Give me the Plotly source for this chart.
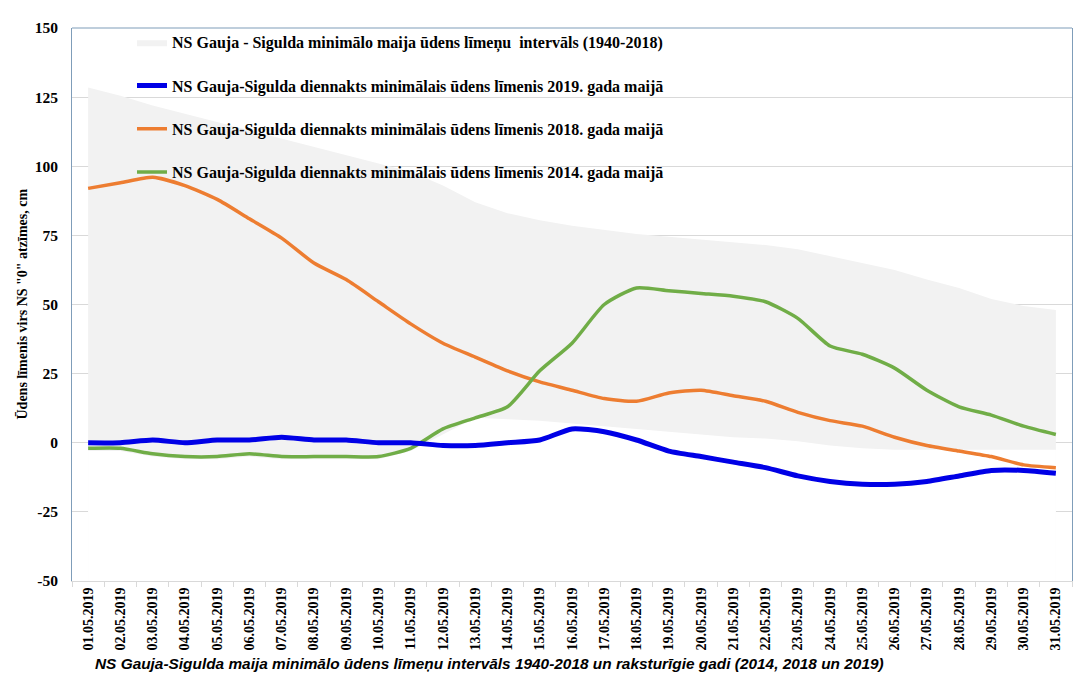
import plotly.graph_objects as go

dates = [f"{d:02d}.05.2019" for d in range(1, 32)]

band_upper = [128.5, 125.5, 122, 119, 116, 113, 110, 107, 104, 101, 98, 93, 87, 83,
              80.5, 78.5, 77, 75.5, 74.5, 73.5, 72.5, 71.5, 70, 67.5, 65, 62.5, 59,
              56, 52, 49.5, 48]
band_lower = [-3, -3, -5, -6, -6, -5, -6, -6, -6, -6, -3, 3, 9, 8.5, 8, 7, 6, 5, 4,
              3, 2, 1.5, 0.5, -1, -2, -2.5, -2.5, -2.5, -2.5, -2.5, -2.5]
y2019 = [0, 0, 1, 0, 1, 1, 2, 1, 1, 0, 0, -1, -1, 0, 1, 5, 4, 1, -3, -5, -7, -9,
         -12, -14, -15, -15, -14, -12, -10, -10, -11]
y2018 = [92, 94, 96, 93, 88, 81, 74, 65, 59, 51, 43, 36, 31, 26, 22, 19, 16, 15, 18,
         19, 17, 15, 11, 8, 6, 2, -1, -3, -5, -8, -9]
y2014 = [-2, -2, -4, -5, -5, -4, -5, -5, -5, -5, -2, 5, 9, 13, 26, 36, 50, 56, 55,
         54, 53, 51, 45, 35, 32, 27, 19, 13, 10, 6, 3]

y_ticks = [-50, -25, 0, 25, 50, 75, 100, 125, 150]
y_tick_labels = ["-50", "-25", "0", "25", "50", "75", "100", "125", "150"]

y_min, y_max = -50, 150
base = [y_min] * len(dates)

names = [
    "NS Gauja - Sigulda minimālo maija ūdens līmeņu  intervāls (1940-2018)",
    "NS Gauja-Sigulda diennakts minimālais ūdens līmenis 2019. gada maijā",
    "NS Gauja-Sigulda diennakts minimālais ūdens līmenis 2018. gada maijā",
    "NS Gauja-Sigulda diennakts minimālais ūdens līmenis 2014. gada maijā",
]

fig = go.Figure()
fig.add_trace(go.Scatter(x=dates, y=base, mode="lines", line=dict(width=0),
                         showlegend=False, hoverinfo="skip", legendgroup="g0"))
fig.add_trace(go.Scatter(x=dates, y=band_upper, mode="lines", line=dict(width=0, color="#f2f2f2"),
                         fill="tonexty", fillcolor="#f2f2f2", name="<b>" + names[0] + "</b>",
                         legendgroup="g0", legendrank=1))
fig.add_trace(go.Scatter(x=dates, y=base, mode="lines", line=dict(width=0),
                         showlegend=False, hoverinfo="skip", legendgroup="g0"))
fig.add_trace(go.Scatter(x=dates, y=band_lower, mode="lines", line=dict(width=0, color="white"),
                         fill="tonexty", fillcolor="white", showlegend=False, legendgroup="g0"))

fig.add_trace(go.Scatter(x=dates, y=y2018, mode="lines", name="<b>" + names[2] + "</b>",
                         legendgroup="g2", legendrank=3,
                         line=dict(color="#ed7d31", width=3.5, shape="spline", smoothing=0.6)))
fig.add_trace(go.Scatter(x=dates, y=y2014, mode="lines", name="<b>" + names[3] + "</b>",
                         legendgroup="g3", legendrank=4,
                         line=dict(color="#70ad47", width=3.5, shape="spline", smoothing=0.6)))
fig.add_trace(go.Scatter(x=dates, y=y2019, mode="lines", name="<b>" + names[1] + "</b>",
                         legendgroup="g1", legendrank=2,
                         line=dict(color="#0000e6", width=5, shape="spline", smoothing=0.6)))

serif = "Liberation Serif, Times New Roman, serif"

fig.update_layout(
    width=1091, height=678,
    margin=dict(l=72, r=19, t=28, b=97, autoexpand=False),
    paper_bgcolor="white", plot_bgcolor="white",
    font=dict(family=serif, color="black"),
    showlegend=True,
    legend=dict(x=0.06, y=1.005, xanchor="left", yanchor="top",
                bgcolor="rgba(0,0,0,0)", font=dict(family=serif, size=16, color="black"),
                tracegroupgap=19.5, itemwidth=30, traceorder="grouped"),
    xaxis=dict(type="category", range=[-0.5, 30.5], tickangle=-90, tickson="boundaries",
               ticks="outside", ticklen=5, tickcolor="#d9d9d9", showgrid=False,
               showline=True, linecolor="#d9d9d9", linewidth=1, automargin=False,
               tickprefix="<b>", ticksuffix="</b>",
               tickfont=dict(family=serif, size=14, color="black")),
    yaxis=dict(range=[y_min, y_max], tickmode="array", tickvals=y_ticks,
               ticktext=["<b>" + t + "</b>" for t in y_tick_labels],
               showgrid=True, gridcolor="#d9d9d9", automargin=False,
               zeroline=False, showline=True, linecolor="#7f9db9", linewidth=1, mirror=True,
               ticks="", ticklabelstandoff=10,
               tickfont=dict(family=serif, size=15.5, color="black")),
    shapes=[dict(type="line", xref="paper", yref="paper", x0=0, x1=1, y0=1, y1=1,
                 line=dict(color="#7f9db9", width=1))],
    annotations=[
        dict(text="<b><i>NS Gauja-Sigulda maija minimālo ūdens līmeņu intervāls 1940-2018 un raksturīgie gadi (2014, 2018 un 2019)</i></b>",
             xref="paper", yref="paper", x=0.417, y=-0.149, xanchor="center",
             yanchor="middle", showarrow=False,
             font=dict(family="Liberation Sans, Arial, sans-serif", size=15.4, color="black")),
        dict(text='<b>Ūdens līmenis virs NS "0" atzīmes, cm</b>', textangle=-90,
             xref="paper", yref="paper", x=-0.05, y=0.5, xanchor="center", yanchor="middle",
             showarrow=False, font=dict(family=serif, size=14, color="black")),
    ],
)

fig.write_html("out.html", config={"displayModeBar": False},
               post_script="document.body.style.margin='0';")
